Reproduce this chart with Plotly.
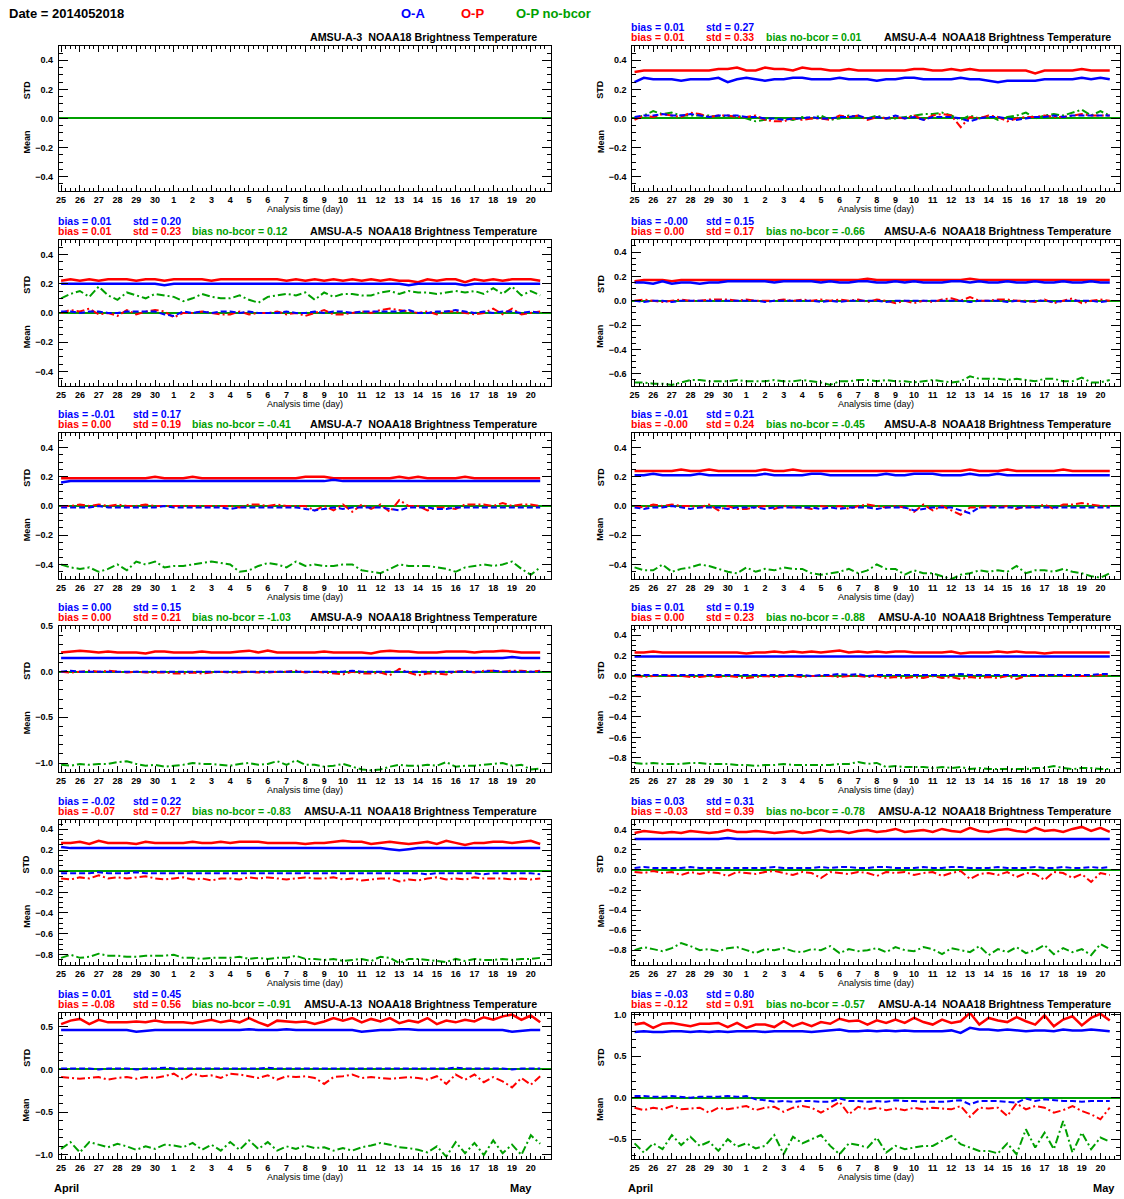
import plotly.graph_objects as go
import pandas as pd

W, H = 1124, 1199
BLUE, RED, GREEN = "#0000ff", "#ff0000", "#00a000"
FONT = "Liberation Sans"

# ---------------- time axis ----------------
analysis_times = pd.date_range("2014-04-25 00:00", periods=52, freq="12h")
t_days = ((analysis_times - analysis_times[0]) / pd.Timedelta(days=1)).tolist()
day_ticks = list(range(26))
day_labels = ["25", "26", "27", "28", "29", "30", "1", "2", "3", "4", "5", "6", "7",
              "8", "9", "10", "11", "12", "13", "14", "15", "16", "17", "18", "19", "20"]

channels = ["AMSU-A-3", "AMSU-A-4", "AMSU-A-5", "AMSU-A-6", "AMSU-A-7", "AMSU-A-8",
            "AMSU-A-9", "AMSU-A-10", "AMSU-A-11", "AMSU-A-12", "AMSU-A-13", "AMSU-A-14"]

oa_bias_txt = ["", "0.01", "0.01", "-0.00", "-0.01", "-0.01", "0.00", "0.01", "-0.02", "0.03", "0.01", "-0.03"]
oa_std_txt = ["", "0.27", "0.20", "0.15", "0.17", "0.21", "0.15", "0.19", "0.22", "0.31", "0.45", "0.80"]
op_bias_txt = ["", "0.01", "0.01", "0.00", "0.00", "-0.00", "0.00", "0.00", "-0.07", "-0.03", "-0.08", "-0.12"]
op_std_txt = ["", "0.33", "0.23", "0.17", "0.19", "0.24", "0.21", "0.23", "0.27", "0.39", "0.56", "0.91"]
nobc_bias_txt = ["", "0.01", "0.12", "-0.66", "-0.41", "-0.45", "-1.03", "-0.88", "-0.83", "-0.78", "-0.91", "-0.57"]

# ---------------- series (12-hourly) ----------------
# AMSU-A-3: no data
oa_std_a3, op_std_a3, oa_mean_a3, op_mean_a3, nobc_mean_a3 = [], [], [], [], []

oa_std_a4 = [0.25,0.28,0.27,0.27,0.27,0.26,0.27,0.27,0.27,0.28,0.25,0.27,0.28,
             0.27,0.26,0.27,0.27,0.28,0.28,0.27,0.27,0.27,0.28,0.27,0.27,0.27,
             0.26,0.27,0.27,0.28,0.28,0.27,0.27,0.27,0.27,0.28,0.27,0.27,0.26,
             0.25,0.26,0.26,0.26,0.26,0.27,0.27,0.27,0.27,0.28,0.27,0.28,0.27]
op_std_a4 = [0.32,0.33,0.33,0.33,0.33,0.33,0.33,0.33,0.33,0.34,0.34,0.35,0.33,
             0.33,0.35,0.34,0.34,0.33,0.35,0.34,0.34,0.33,0.33,0.34,0.33,0.33,
             0.33,0.33,0.33,0.33,0.34,0.34,0.33,0.33,0.34,0.33,0.34,0.33,0.33,
             0.33,0.33,0.33,0.33,0.31,0.33,0.33,0.33,0.33,0.34,0.33,0.33,0.33]
oa_mean_a4 = [0.01,0.02,0.02,0.03,0.02,0.02,0.03,0.02,0.01,0.02,0.02,0.02,0.01,
              0.01,0.00,0.00,-0.01,0.00,0.00,0.01,0.00,0.00,0.01,0.01,0.02,0.00,
              0.01,0.00,0.02,0.00,0.01,-0.01,0.01,0.01,0.01,0.00,-0.02,0.00,0.01,
              0.01,0.00,-0.01,0.00,0.01,0.01,0.02,0.01,0.02,0.02,0.02,0.02,0.02]
op_mean_a4 = [-0.01,0.02,0.01,0.03,0.02,0.01,0.04,0.03,0.01,0.02,0.02,0.01,0.01,
              0.02,-0.01,-0.02,-0.02,0.00,-0.01,0.00,0.00,-0.01,0.02,0.01,0.02,-0.01,
              0.01,0.00,0.01,0.00,0.02,-0.01,0.02,0.03,0.02,-0.06,0.01,0.00,0.02,
              0.01,-0.02,0.00,0.01,0.01,0.02,0.01,0.01,0.02,0.03,0.02,0.02,0.02]
nobc_mean_a4 = [0.00,0.02,0.05,0.03,0.04,0.02,0.02,0.02,0.02,0.01,0.01,0.02,0.00,
                -0.02,-0.01,0.00,0.00,-0.01,0.01,0.00,0.02,-0.01,0.00,0.02,0.01,0.00,
                0.02,0.00,0.00,0.01,0.02,0.03,0.03,0.04,0.02,-0.01,0.02,0.00,0.02,
                -0.01,0.01,0.02,0.04,0.00,0.02,0.03,0.02,0.04,0.06,0.02,0.05,0.02]

oa_std_a5 = [0.20,0.20,0.20,0.20,0.20,0.20,0.20,0.20,0.20,0.20,0.20,0.19,0.20,
             0.20,0.20,0.20,0.20,0.20,0.20,0.20,0.20,0.20,0.20,0.20,0.20,0.20,
             0.20,0.20,0.20,0.20,0.20,0.20,0.20,0.20,0.20,0.20,0.20,0.19,0.20,
             0.20,0.20,0.20,0.20,0.19,0.20,0.20,0.20,0.20,0.20,0.20,0.20,0.20]
op_std_a5 = [0.22,0.23,0.22,0.23,0.22,0.23,0.23,0.23,0.22,0.23,0.23,0.22,0.23,
             0.23,0.23,0.23,0.22,0.23,0.23,0.23,0.23,0.23,0.23,0.23,0.22,0.23,
             0.22,0.23,0.22,0.23,0.22,0.23,0.22,0.23,0.22,0.23,0.22,0.22,0.21,
             0.23,0.22,0.23,0.23,0.21,0.23,0.22,0.23,0.22,0.23,0.23,0.23,0.22]
oa_mean_a5 = [0.01,0.01,0.00,0.01,0.01,0.00,0.00,0.01,0.01,0.01,0.01,-0.01,-0.02,
              0.01,0.00,0.01,0.00,0.01,0.01,0.00,0.01,0.00,0.00,0.00,0.01,0.00,
              0.00,0.01,0.00,0.01,0.01,0.00,0.01,0.01,0.01,0.01,0.01,0.02,0.00,
              0.00,0.01,0.01,0.02,0.01,0.00,0.01,0.00,0.01,0.01,0.00,0.01,0.00]
op_mean_a5 = [0.00,0.02,0.01,0.03,-0.01,0.00,-0.02,0.02,-0.01,0.01,0.02,0.01,-0.03,
              0.00,0.00,0.01,0.00,-0.01,-0.01,0.01,-0.01,0.00,0.00,0.01,-0.01,0.00,
              -0.02,0.00,0.02,-0.01,-0.01,0.00,0.01,0.00,0.02,0.03,0.02,0.01,0.00,
              0.01,-0.01,0.01,0.01,0.00,-0.01,0.00,0.03,-0.01,0.03,-0.01,0.00,0.01]
nobc_mean_a5 = [0.10,0.13,0.15,0.11,0.18,0.12,0.09,0.14,0.12,0.10,0.13,0.12,0.11,
                0.08,0.10,0.13,0.11,0.10,0.10,0.12,0.09,0.07,0.11,0.12,0.13,0.12,
                0.14,0.09,0.14,0.11,0.13,0.13,0.12,0.12,0.14,0.15,0.13,0.15,0.14,
                0.14,0.13,0.14,0.15,0.14,0.15,0.13,0.17,0.13,0.18,0.12,0.15,0.12]

oa_std_a6 = [0.15,0.15,0.14,0.16,0.14,0.15,0.15,0.14,0.15,0.15,0.16,0.16,0.16,
             0.16,0.16,0.15,0.16,0.16,0.16,0.16,0.15,0.16,0.15,0.15,0.16,0.16,
             0.15,0.15,0.16,0.15,0.16,0.15,0.15,0.15,0.16,0.16,0.15,0.16,0.15,
             0.15,0.16,0.15,0.15,0.16,0.15,0.15,0.16,0.15,0.15,0.16,0.15,0.15]
op_std_a6 = [0.16,0.17,0.17,0.17,0.16,0.17,0.17,0.17,0.17,0.17,0.17,0.17,0.17,
             0.17,0.17,0.17,0.17,0.17,0.17,0.17,0.17,0.17,0.17,0.17,0.17,0.18,
             0.17,0.17,0.17,0.17,0.17,0.17,0.17,0.17,0.17,0.17,0.18,0.17,0.17,
             0.17,0.17,0.17,0.17,0.17,0.17,0.17,0.17,0.17,0.17,0.17,0.17,0.17]
oa_mean_a6 = [0.00,-0.01,0.00,0.00,-0.01,0.00,0.00,0.00,0.00,0.00,0.00,0.00,0.00,
              0.00,-0.01,0.00,0.00,0.00,0.00,0.00,-0.01,0.00,-0.01,0.00,0.00,0.00,
              0.00,-0.01,0.00,0.00,0.00,0.00,0.00,0.00,0.00,0.00,-0.01,0.00,0.00,
              0.00,-0.01,0.00,-0.01,0.00,0.00,-0.01,0.00,0.00,0.00,0.00,-0.01,0.00]
op_mean_a6 = [0.00,0.01,0.00,-0.01,0.00,0.01,0.00,0.00,0.01,0.01,0.01,0.00,0.01,
              0.00,0.00,0.00,0.01,0.00,0.01,0.00,0.01,0.00,0.01,0.00,0.01,-0.01,
              0.01,0.00,-0.02,0.00,-0.02,0.00,-0.01,0.01,0.02,0.00,0.03,0.00,0.00,
              0.01,0.01,0.00,0.00,-0.01,0.01,-0.02,0.00,0.02,-0.02,0.00,0.01,0.00]
nobc_mean_a6 = [-0.67,-0.67,-0.68,-0.68,-0.69,-0.67,-0.65,-0.65,-0.66,-0.66,-0.66,-0.65,-0.66,
                -0.66,-0.66,-0.65,-0.66,-0.66,-0.65,-0.66,-0.67,-0.69,-0.66,-0.66,-0.65,-0.65,
                -0.66,-0.65,-0.66,-0.66,-0.67,-0.66,-0.65,-0.66,-0.67,-0.66,-0.62,-0.64,-0.64,
                -0.64,-0.65,-0.64,-0.65,-0.66,-0.64,-0.64,-0.66,-0.66,-0.63,-0.67,-0.67,-0.65]

oa_std_a7 = [0.16,0.17,0.17,0.17,0.17,0.17,0.17,0.17,0.17,0.17,0.17,0.17,0.17,
             0.17,0.17,0.17,0.17,0.17,0.17,0.17,0.17,0.17,0.17,0.17,0.17,0.17,
             0.17,0.17,0.17,0.18,0.17,0.17,0.17,0.17,0.17,0.17,0.17,0.17,0.17,
             0.17,0.17,0.17,0.17,0.17,0.17,0.17,0.17,0.17,0.17,0.17,0.17,0.17]
op_std_a7 = [0.19,0.19,0.19,0.19,0.19,0.19,0.19,0.19,0.19,0.19,0.20,0.19,0.19,
             0.19,0.20,0.19,0.19,0.19,0.19,0.19,0.19,0.19,0.19,0.19,0.19,0.19,
             0.20,0.20,0.20,0.19,0.19,0.19,0.19,0.19,0.19,0.19,0.20,0.19,0.20,
             0.19,0.19,0.19,0.19,0.20,0.19,0.19,0.19,0.19,0.19,0.19,0.19,0.19]
oa_mean_a7 = [-0.01,-0.01,-0.01,-0.01,0.00,-0.01,-0.01,-0.01,-0.01,-0.01,-0.01,0.00,-0.01,
              -0.01,-0.01,-0.01,-0.01,-0.01,-0.02,-0.01,-0.01,-0.01,-0.01,-0.01,-0.01,-0.01,
              -0.02,-0.03,-0.02,-0.01,-0.02,-0.01,-0.01,-0.01,-0.01,-0.02,-0.03,-0.01,-0.01,
              -0.01,-0.02,-0.02,-0.01,-0.01,-0.01,-0.01,-0.01,-0.01,-0.01,-0.01,-0.01,-0.01]
op_mean_a7 = [0.00,0.00,0.01,0.00,0.01,0.00,0.01,0.00,0.00,0.01,0.00,0.00,0.00,
              0.00,0.00,0.00,0.00,0.00,0.00,-0.01,0.01,0.01,0.00,0.01,0.00,0.00,
              0.00,-0.03,0.00,-0.03,0.01,-0.04,0.01,-0.02,0.01,-0.04,0.04,0.00,0.00,
              -0.03,-0.01,-0.01,-0.02,0.01,0.01,0.01,0.00,0.02,0.00,0.01,0.01,0.00]
nobc_mean_a7 = [-0.40,-0.42,-0.43,-0.42,-0.45,-0.43,-0.40,-0.44,-0.38,-0.40,-0.38,-0.42,-0.41,
                -0.41,-0.40,-0.39,-0.38,-0.39,-0.40,-0.45,-0.44,-0.41,-0.39,-0.40,-0.42,-0.38,
                -0.41,-0.40,-0.41,-0.41,-0.40,-0.40,-0.44,-0.45,-0.46,-0.43,-0.40,-0.41,-0.41,
                -0.41,-0.42,-0.43,-0.45,-0.42,-0.41,-0.40,-0.41,-0.40,-0.38,-0.43,-0.47,-0.42]

oa_std_a8 = [0.21,0.21,0.22,0.21,0.21,0.21,0.21,0.22,0.21,0.21,0.21,0.21,0.21,
             0.21,0.22,0.21,0.21,0.21,0.21,0.22,0.22,0.21,0.21,0.21,0.21,0.21,
             0.21,0.22,0.21,0.21,0.22,0.22,0.22,0.21,0.21,0.21,0.22,0.21,0.21,
             0.22,0.21,0.21,0.21,0.21,0.21,0.21,0.21,0.21,0.21,0.21,0.21,0.21]
op_std_a8 = [0.24,0.24,0.24,0.24,0.24,0.25,0.24,0.24,0.25,0.24,0.24,0.24,0.24,
             0.24,0.25,0.24,0.24,0.25,0.24,0.24,0.24,0.24,0.24,0.24,0.24,0.24,
             0.24,0.24,0.24,0.24,0.24,0.24,0.24,0.24,0.24,0.24,0.25,0.24,0.24,
             0.24,0.25,0.24,0.24,0.24,0.24,0.24,0.25,0.24,0.24,0.24,0.24,0.24]
oa_mean_a8 = [-0.01,-0.02,-0.01,-0.01,0.00,-0.01,-0.02,-0.01,-0.01,-0.01,-0.02,-0.01,-0.01,
              -0.01,-0.02,-0.01,-0.01,-0.01,-0.01,-0.01,-0.02,-0.01,-0.02,-0.01,-0.01,-0.01,
              -0.02,-0.01,-0.01,-0.01,-0.03,-0.02,-0.01,-0.01,-0.01,-0.03,-0.05,-0.01,-0.01,
              -0.01,-0.01,-0.01,-0.01,-0.01,-0.01,-0.01,-0.01,-0.01,-0.01,-0.01,-0.01,-0.01]
op_mean_a8 = [0.00,-0.01,0.01,0.00,0.01,0.00,0.00,-0.01,0.01,-0.03,0.00,-0.02,-0.02,
              -0.01,0.00,-0.02,0.00,-0.01,-0.01,-0.02,0.00,-0.01,0.00,-0.02,0.00,0.01,
              0.00,-0.01,0.00,-0.01,-0.04,0.01,-0.03,0.00,-0.03,-0.06,-0.01,-0.01,0.00,
              -0.01,0.00,-0.02,0.00,-0.01,0.01,-0.02,0.01,0.01,0.02,0.01,0.00,0.00]
nobc_mean_a8 = [-0.42,-0.44,-0.44,-0.40,-0.45,-0.43,-0.42,-0.40,-0.41,-0.43,-0.45,-0.46,-0.42,
                -0.45,-0.43,-0.44,-0.42,-0.43,-0.43,-0.46,-0.47,-0.46,-0.45,-0.43,-0.46,-0.44,
                -0.40,-0.43,-0.43,-0.47,-0.44,-0.46,-0.46,-0.48,-0.50,-0.47,-0.46,-0.44,-0.45,
                -0.44,-0.45,-0.41,-0.46,-0.44,-0.44,-0.45,-0.43,-0.45,-0.46,-0.48,-0.49,-0.46]

oa_std_a9 = [0.15,0.15,0.15,0.15,0.15,0.15,0.15,0.15,0.15,0.15,0.15,0.15,0.15,
             0.15,0.15,0.15,0.15,0.15,0.15,0.15,0.15,0.15,0.15,0.15,0.15,0.15,
             0.15,0.15,0.15,0.15,0.15,0.15,0.15,0.15,0.15,0.15,0.15,0.15,0.15,
             0.15,0.15,0.15,0.15,0.15,0.15,0.15,0.15,0.15,0.16,0.15,0.15,0.15]
op_std_a9 = [0.21,0.22,0.23,0.22,0.21,0.22,0.21,0.21,0.21,0.20,0.22,0.22,0.21,
             0.21,0.21,0.22,0.21,0.21,0.21,0.22,0.23,0.21,0.23,0.21,0.21,0.21,
             0.21,0.21,0.22,0.21,0.21,0.21,0.21,0.20,0.22,0.23,0.22,0.22,0.21,
             0.21,0.21,0.22,0.22,0.22,0.21,0.22,0.22,0.23,0.22,0.21,0.21,0.21]
oa_mean_a9 = [0.00,0.01,0.00,0.00,0.00,0.00,0.00,0.00,0.00,0.00,0.00,0.00,0.00,
              0.00,0.00,0.00,0.00,0.00,0.00,0.00,0.00,0.00,0.00,0.00,0.00,0.00,
              0.00,0.00,0.00,0.00,0.00,0.01,0.00,0.00,0.00,0.00,0.00,0.00,0.00,
              0.00,0.00,0.00,0.00,0.00,0.00,0.00,0.01,0.00,0.00,0.00,0.00,0.00]
op_mean_a9 = [0.00,-0.01,0.00,0.01,0.00,0.01,0.00,-0.01,0.00,-0.01,-0.01,-0.01,-0.02,
              -0.02,-0.01,-0.02,-0.01,0.00,-0.01,-0.01,0.00,-0.01,-0.01,0.00,0.00,0.01,
              -0.01,0.00,-0.01,-0.02,-0.03,0.00,-0.02,-0.02,-0.01,-0.04,0.03,-0.01,-0.04,
              -0.02,-0.02,-0.03,0.00,0.01,-0.01,0.01,0.01,0.00,0.01,0.01,0.00,0.01]
nobc_mean_a9 = [-1.02,-1.03,-1.01,-1.02,-1.01,-1.01,-0.99,-0.98,-1.01,-1.03,-1.02,-1.04,-1.03,
                -1.02,-1.00,-1.01,-1.01,-1.02,-1.03,-1.01,-1.00,-1.02,-1.01,-0.98,-1.02,-0.97,
                -1.02,-1.02,-1.04,-1.03,-1.01,-1.04,-1.07,-1.08,-1.07,-1.04,-1.02,-1.03,-1.03,
                -1.02,-1.03,-0.99,-1.04,-1.03,-1.03,-1.02,-1.01,-1.00,-1.03,-1.02,-1.07,-1.06]

oa_std_a10 = [0.19,0.19,0.19,0.19,0.19,0.19,0.19,0.19,0.19,0.19,0.19,0.19,0.19,
              0.19,0.19,0.19,0.19,0.19,0.19,0.19,0.19,0.19,0.19,0.19,0.19,0.19,
              0.19,0.19,0.19,0.19,0.19,0.19,0.19,0.19,0.19,0.19,0.19,0.19,0.19,
              0.19,0.19,0.19,0.19,0.19,0.19,0.19,0.19,0.19,0.19,0.19,0.19,0.19]
op_std_a10 = [0.23,0.23,0.24,0.23,0.23,0.23,0.23,0.23,0.23,0.23,0.23,0.23,0.22,
              0.23,0.23,0.24,0.23,0.24,0.23,0.24,0.23,0.24,0.25,0.23,0.24,0.23,
              0.24,0.23,0.24,0.24,0.23,0.23,0.23,0.23,0.24,0.22,0.23,0.23,0.23,
              0.24,0.23,0.24,0.23,0.23,0.22,0.23,0.23,0.23,0.23,0.23,0.23,0.23]
oa_mean_a10 = [0.01,0.01,0.01,0.01,0.01,0.01,0.01,0.01,0.01,0.01,0.01,0.01,0.01,
               0.01,0.01,0.01,0.01,0.01,0.01,0.00,0.01,0.01,0.02,0.01,0.02,0.00,
               0.01,0.01,0.01,0.01,0.01,0.01,0.01,0.01,0.01,0.02,0.01,0.01,0.01,
               0.01,0.01,0.01,0.01,0.01,0.01,0.01,0.01,0.01,0.01,0.01,0.02,0.02]
op_mean_a10 = [0.00,-0.01,0.00,0.01,0.00,0.00,-0.01,-0.01,0.00,-0.01,0.00,-0.01,-0.02,
               -0.01,0.00,-0.01,0.00,0.00,-0.01,0.00,0.00,0.00,-0.01,0.00,0.00,-0.01,
               0.00,-0.02,-0.01,-0.02,-0.01,-0.02,0.00,-0.02,-0.01,-0.03,-0.01,-0.02,-0.01,
               -0.02,0.00,-0.03,0.00,0.00,0.00,0.01,0.00,0.00,0.00,0.00,0.01,0.00]
nobc_mean_a10 = [-0.85,-0.86,-0.85,-0.86,-0.86,-0.86,-0.85,-0.85,-0.86,-0.86,-0.86,-0.87,-0.87,
                 -0.88,-0.87,-0.87,-0.86,-0.87,-0.87,-0.87,-0.87,-0.87,-0.86,-0.86,-0.84,-0.86,
                 -0.85,-0.89,-0.88,-0.89,-0.89,-0.89,-0.90,-0.89,-0.90,-0.89,-0.91,-0.90,-0.91,
                 -0.91,-0.91,-0.91,-0.91,-0.90,-0.90,-0.88,-0.90,-0.91,-0.90,-0.90,-0.91,-0.91]

oa_std_a11 = [0.23,0.22,0.22,0.22,0.22,0.22,0.22,0.22,0.22,0.22,0.22,0.22,0.22,
              0.22,0.22,0.22,0.22,0.22,0.22,0.22,0.22,0.22,0.22,0.22,0.22,0.22,
              0.22,0.22,0.22,0.22,0.22,0.22,0.22,0.22,0.22,0.21,0.20,0.21,0.22,
              0.22,0.22,0.22,0.22,0.22,0.22,0.22,0.22,0.22,0.22,0.22,0.22,0.22]
op_std_a11 = [0.27,0.27,0.28,0.26,0.29,0.27,0.27,0.27,0.26,0.28,0.27,0.27,0.27,
              0.27,0.28,0.27,0.27,0.28,0.27,0.28,0.28,0.28,0.27,0.27,0.27,0.27,
              0.26,0.27,0.27,0.28,0.29,0.28,0.28,0.26,0.27,0.28,0.27,0.26,0.27,
              0.28,0.26,0.29,0.27,0.25,0.27,0.27,0.28,0.28,0.27,0.28,0.29,0.26]
oa_mean_a11 = [-0.02,-0.02,-0.02,-0.02,-0.01,-0.02,-0.02,-0.02,-0.01,-0.02,-0.02,-0.02,-0.02,
               -0.02,-0.02,-0.02,-0.02,-0.02,-0.02,-0.02,-0.02,-0.02,-0.02,-0.02,-0.02,-0.02,
               -0.02,-0.02,-0.02,-0.02,-0.02,-0.02,-0.02,-0.02,-0.02,-0.02,-0.02,-0.02,-0.02,
               -0.03,-0.02,-0.02,-0.02,-0.02,-0.02,-0.03,-0.02,-0.02,-0.02,-0.02,-0.02,-0.03]
op_mean_a11 = [-0.07,-0.08,-0.06,-0.07,-0.04,-0.07,-0.06,-0.07,-0.06,-0.05,-0.07,-0.08,-0.07,
               -0.06,-0.08,-0.07,-0.09,-0.07,-0.07,-0.08,-0.06,-0.07,-0.06,-0.07,-0.08,-0.07,
               -0.06,-0.07,-0.07,-0.06,-0.08,-0.07,-0.09,-0.08,-0.07,-0.07,-0.10,-0.08,-0.09,
               -0.07,-0.06,-0.08,-0.07,-0.08,-0.06,-0.07,-0.07,-0.07,-0.08,-0.07,-0.08,-0.07]
nobc_mean_a11 = [-0.83,-0.80,-0.83,-0.82,-0.79,-0.81,-0.81,-0.82,-0.82,-0.81,-0.81,-0.81,-0.80,
                 -0.83,-0.83,-0.84,-0.83,-0.83,-0.83,-0.82,-0.84,-0.83,-0.84,-0.83,-0.83,-0.81,
                 -0.84,-0.84,-0.85,-0.84,-0.86,-0.85,-0.84,-0.86,-0.82,-0.83,-0.88,-0.84,-0.84,
                 -0.85,-0.86,-0.87,-0.84,-0.86,-0.84,-0.85,-0.85,-0.84,-0.85,-0.84,-0.84,-0.83]

oa_std_a12 = [0.31,0.31,0.31,0.31,0.31,0.31,0.31,0.31,0.31,0.31,0.32,0.31,0.31,
              0.31,0.31,0.31,0.31,0.31,0.31,0.31,0.31,0.31,0.31,0.31,0.31,0.31,
              0.31,0.31,0.31,0.31,0.31,0.31,0.31,0.31,0.31,0.31,0.31,0.31,0.31,
              0.31,0.31,0.31,0.31,0.31,0.31,0.31,0.31,0.31,0.31,0.31,0.31,0.31]
op_std_a12 = [0.37,0.39,0.38,0.37,0.38,0.37,0.39,0.38,0.37,0.38,0.40,0.38,0.38,
              0.39,0.38,0.37,0.38,0.39,0.37,0.38,0.40,0.38,0.39,0.37,0.39,0.40,
              0.38,0.39,0.41,0.38,0.39,0.40,0.38,0.41,0.39,0.38,0.42,0.39,0.38,
              0.40,0.41,0.39,0.38,0.42,0.39,0.40,0.38,0.41,0.43,0.39,0.42,0.38]
oa_mean_a12 = [0.02,0.03,0.02,0.02,0.02,0.02,0.03,0.02,0.02,0.02,0.02,0.02,0.02,
               0.02,0.02,0.03,0.02,0.02,0.02,0.02,0.03,0.02,0.03,0.03,0.02,0.02,
               0.03,0.03,0.02,0.02,0.02,0.03,0.02,0.02,0.03,0.03,0.02,0.02,0.02,
               0.03,0.02,0.02,0.02,0.03,0.02,0.02,0.03,0.02,0.02,0.03,0.02,0.03]
op_mean_a12 = [-0.02,-0.03,-0.01,-0.03,-0.02,-0.05,-0.02,-0.04,-0.02,-0.03,-0.06,-0.02,-0.03,
               -0.04,-0.02,-0.01,-0.03,-0.05,-0.02,-0.03,-0.08,-0.02,-0.03,-0.04,-0.02,-0.03,
               -0.06,-0.02,-0.03,-0.02,-0.05,-0.03,-0.02,-0.06,-0.03,-0.01,-0.09,-0.04,-0.03,
               -0.05,-0.02,-0.07,-0.03,-0.04,-0.10,-0.02,-0.03,-0.08,-0.04,-0.12,-0.03,-0.05]
nobc_mean_a12 = [-0.80,-0.77,-0.79,-0.81,-0.78,-0.73,-0.76,-0.80,-0.79,-0.81,-0.78,-0.77,-0.80,
                 -0.83,-0.79,-0.80,-0.78,-0.81,-0.82,-0.79,-0.80,-0.76,-0.83,-0.79,-0.81,-0.80,
                 -0.78,-0.82,-0.77,-0.80,-0.81,-0.77,-0.79,-0.84,-0.78,-0.80,-0.82,-0.76,-0.85,
                 -0.79,-0.82,-0.77,-0.83,-0.80,-0.75,-0.84,-0.78,-0.82,-0.79,-0.85,-0.74,-0.79]

oa_std_a13 = [0.46,0.46,0.46,0.46,0.46,0.46,0.46,0.46,0.44,0.45,0.46,0.46,0.46,
              0.46,0.46,0.46,0.46,0.46,0.46,0.46,0.47,0.46,0.46,0.46,0.47,0.46,
              0.46,0.46,0.46,0.46,0.46,0.46,0.44,0.45,0.46,0.46,0.47,0.47,0.46,
              0.46,0.46,0.46,0.46,0.46,0.46,0.46,0.46,0.46,0.44,0.45,0.46,0.46]
op_std_a13 = [0.53,0.57,0.59,0.53,0.58,0.55,0.55,0.55,0.56,0.55,0.57,0.55,0.55,
              0.55,0.54,0.56,0.58,0.55,0.57,0.55,0.60,0.55,0.51,0.57,0.56,0.55,
              0.56,0.53,0.56,0.60,0.57,0.60,0.55,0.59,0.56,0.60,0.54,0.57,0.55,
              0.60,0.53,0.57,0.55,0.58,0.56,0.61,0.58,0.62,0.64,0.58,0.63,0.55]
oa_mean_a13 = [0.01,0.01,0.01,0.01,0.00,0.01,0.01,0.01,0.00,0.01,0.01,0.02,0.01,
               0.01,0.01,0.01,0.01,0.01,0.01,0.01,0.01,0.01,0.02,0.01,0.01,0.01,
               0.01,0.01,0.01,0.01,0.01,0.01,0.01,0.01,0.01,0.01,0.01,0.01,0.01,
               0.01,0.01,0.01,0.02,0.01,0.01,0.01,0.01,0.01,0.00,0.01,0.01,0.01]
op_mean_a13 = [-0.09,-0.10,-0.11,-0.10,-0.09,-0.12,-0.10,-0.09,-0.11,-0.09,-0.10,-0.08,-0.05,
               -0.12,-0.05,-0.08,-0.07,-0.10,-0.05,-0.06,-0.08,-0.10,-0.07,-0.12,-0.08,-0.09,
               -0.08,-0.10,-0.17,-0.09,-0.08,-0.06,-0.10,-0.09,-0.10,-0.11,-0.10,-0.09,-0.10,
               -0.12,-0.08,-0.17,-0.06,-0.12,-0.06,-0.15,-0.09,-0.14,-0.21,-0.10,-0.18,-0.08]
nobc_mean_a13 = [-0.93,-0.85,-0.97,-0.85,-0.88,-0.91,-0.87,-0.90,-0.94,-0.90,-0.93,-0.88,-0.89,
                 -0.91,-0.86,-0.94,-0.88,-0.95,-0.85,-0.94,-0.83,-0.93,-0.85,-0.95,-0.90,-0.93,
                 -0.89,-0.92,-0.91,-0.95,-0.92,-0.95,-0.91,-0.89,-0.86,-0.88,-0.91,-0.92,-0.94,
                 -0.97,-0.90,-1.02,-0.85,-0.98,-0.86,-1.00,-0.83,-0.98,-0.88,-1.00,-0.77,-0.87]

oa_std_a14 = [0.79,0.80,0.79,0.79,0.80,0.80,0.79,0.80,0.79,0.80,0.79,0.80,0.80,
              0.80,0.79,0.80,0.80,0.80,0.80,0.79,0.80,0.81,0.82,0.80,0.80,0.81,
              0.80,0.81,0.80,0.81,0.80,0.80,0.80,0.80,0.81,0.78,0.84,0.82,0.82,
              0.81,0.82,0.81,0.80,0.81,0.81,0.80,0.82,0.81,0.81,0.82,0.81,0.80]
op_std_a14 = [0.88,0.90,0.84,0.89,0.90,0.88,0.86,0.89,0.89,0.90,0.85,0.90,0.84,
              0.88,0.88,0.85,0.92,0.86,0.90,0.86,0.91,0.89,0.95,0.92,0.93,0.88,
              0.93,0.90,0.94,0.90,0.96,0.91,0.88,0.94,0.90,0.92,1.02,0.88,0.96,
              0.93,0.91,0.97,0.92,0.88,0.99,0.86,0.94,0.98,0.87,0.96,1.01,0.93]
oa_mean_a14 = [0.02,0.02,0.01,0.01,0.02,0.01,0.00,0.01,0.01,0.01,0.02,0.01,0.02,
               -0.02,-0.03,-0.05,-0.04,-0.05,-0.04,-0.04,-0.05,-0.05,-0.01,-0.04,-0.04,-0.05,
               -0.04,-0.05,-0.03,-0.04,-0.04,-0.05,-0.05,-0.05,-0.04,-0.03,-0.08,-0.04,-0.04,
               -0.04,-0.05,-0.06,-0.01,-0.04,-0.02,-0.03,-0.04,-0.04,-0.05,-0.04,-0.04,-0.04]
op_mean_a14 = [-0.12,-0.15,-0.12,-0.14,-0.10,-0.14,-0.13,-0.12,-0.18,-0.12,-0.14,-0.12,-0.10,
               -0.15,-0.12,-0.11,-0.17,-0.12,-0.10,-0.12,-0.18,-0.12,-0.05,-0.20,-0.11,-0.14,
               -0.12,-0.15,-0.13,-0.15,-0.12,-0.14,-0.12,-0.13,-0.14,-0.10,-0.23,-0.12,-0.13,
               -0.12,-0.22,-0.07,-0.14,-0.10,-0.12,-0.18,-0.15,-0.10,-0.16,-0.20,-0.26,-0.12]
nobc_mean_a14 = [-0.55,-0.66,-0.55,-0.62,-0.45,-0.57,-0.47,-0.58,-0.53,-0.64,-0.50,-0.59,-0.55,
                 -0.61,-0.58,-0.45,-0.68,-0.47,-0.55,-0.50,-0.45,-0.58,-0.68,-0.55,-0.57,-0.60,
                 -0.48,-0.66,-0.58,-0.62,-0.60,-0.58,-0.58,-0.52,-0.46,-0.56,-0.60,-0.64,-0.64,
                 -0.67,-0.55,-0.68,-0.38,-0.60,-0.42,-0.62,-0.28,-0.66,-0.42,-0.62,-0.48,-0.53]

# ---------------- axis ranges ----------------
y_min = [-0.5, -0.5, -0.5, -0.7, -0.5, -0.5, -1.1, -0.94, -0.9, -0.95, -1.05, -0.74]
y_max = [0.5, 0.5, 0.5, 0.5, 0.5, 0.5, 0.501, 0.49, 0.49, 0.5, 0.66, 1.02]
y_major = [0.2, 0.2, 0.2, 0.2, 0.2, 0.2, 0.5, 0.2, 0.2, 0.2, 0.5, 0.5]

panels = [
    (oa_std_a3, op_std_a3, oa_mean_a3, op_mean_a3, nobc_mean_a3),
    (oa_std_a4, op_std_a4, oa_mean_a4, op_mean_a4, nobc_mean_a4),
    (oa_std_a5, op_std_a5, oa_mean_a5, op_mean_a5, nobc_mean_a5),
    (oa_std_a6, op_std_a6, oa_mean_a6, op_mean_a6, nobc_mean_a6),
    (oa_std_a7, op_std_a7, oa_mean_a7, op_mean_a7, nobc_mean_a7),
    (oa_std_a8, op_std_a8, oa_mean_a8, op_mean_a8, nobc_mean_a8),
    (oa_std_a9, op_std_a9, oa_mean_a9, op_mean_a9, nobc_mean_a9),
    (oa_std_a10, op_std_a10, oa_mean_a10, op_mean_a10, nobc_mean_a10),
    (oa_std_a11, op_std_a11, oa_mean_a11, op_mean_a11, nobc_mean_a11),
    (oa_std_a12, op_std_a12, oa_mean_a12, op_mean_a12, nobc_mean_a12),
    (oa_std_a13, op_std_a13, oa_mean_a13, op_mean_a13, nobc_mean_a13),
    (oa_std_a14, op_std_a14, oa_mean_a14, op_mean_a14, nobc_mean_a14),
]

# ---------------- layout geometry (pixels) ----------------
col_left = [56, 631]
col_right = [549, 1120]
title_inset = [13, 8]
row_top = [41, 236, 430, 624, 819, 1013]
row_bottom = [187, 383, 577, 771, 965, 1160]

def px(x):
    return x / W

def py(y):
    return 1 - y / H

fig = go.Figure()
layout = {}
annotations = []

def ann(text, x, y, size, color="black", xanchor="left", bold=True, angle=0, yanchor="middle"):
    annotations.append(dict(
        text=("<b>%s</b>" % text) if bold else text, x=px(x), y=py(y),
        xref="paper", yref="paper", xanchor=xanchor, yanchor=yanchor,
        showarrow=False, textangle=angle, borderpad=0,
        font=dict(family=FONT, size=size, color=color)))

tickfont = dict(family=FONT, size=9, color="black", weight="bold")

for k, series in enumerate(panels):
    n = k + 1
    r, c = k // 2, k % 2
    L, R, T, B = col_left[c], col_right[c], row_top[r], row_bottom[r]
    xa = "x" if n == 1 else "x%d" % n
    ya = "y" if n == 1 else "y%d" % n
    oa_std, op_std, oa_mean, op_mean, nobc_mean = series
    styles = [
        (nobc_mean, GREEN, "8px,3px,2px,3px", 2),
        (op_mean, RED, "8px,3px,2px,3px", 2),
        (oa_mean, BLUE, "6px,3px", 2),
        (op_std, RED, "solid", 2.5),
        (oa_std, BLUE, "solid", 2.5),
    ]
    for vals, color, dash, wdt in styles:
        fig.add_trace(go.Scatter(
            x=t_days[:len(vals)], y=vals, mode="lines",
            line=dict(color=color, width=wdt, dash=dash),
            xaxis=xa, yaxis=ya, showlegend=False, hoverinfo="skip"))

    minor_y = y_major[k] / (4 if y_major[k] == 0.2 else 5)
    layout["xaxis" if n == 1 else "xaxis%d" % n] = dict(
        domain=[px(L), px(R)], anchor=ya, range=[-0.12, 26.05],
        tickmode="array", tickvals=day_ticks, ticktext=day_labels,
        ticks="inside", ticklen=6, tickwidth=1, tickcolor="black",
        showline=True, linecolor="black", linewidth=1, mirror="ticks",
        showgrid=False, zeroline=False, tickfont=tickfont, ticklabelstandoff=0,
        minor=dict(ticks="inside", tickmode="linear", tick0=0, dtick=0.25,
                   ticklen=3, tickwidth=1, tickcolor="black", showgrid=False),
    )
    layout["yaxis" if n == 1 else "yaxis%d" % n] = dict(
        domain=[py(B), py(T)], anchor=xa, range=[y_min[k], y_max[k]],
        tickmode="linear", tick0=0, dtick=y_major[k], tickformat=".1f",
        ticks="inside", ticklen=9, tickwidth=1, tickcolor="black",
        showline=True, linecolor="black", linewidth=1, mirror="ticks",
        showgrid=False, zeroline=True, zerolinecolor=GREEN, zerolinewidth=2,
        tickfont=tickfont, ticklabelstandoff=3,
        minor=dict(ticks="inside", tickmode="linear", tick0=0, dtick=minor_y,
                   ticklen=4, tickwidth=1, tickcolor="black", showgrid=False),
    )

    # texts
    ann("%s  NOAA18 Brightness Temperature" % channels[k], R - title_inset[c], T - 9, 10.7,
        xanchor="right")
    if oa_bias_txt[k]:
        ann("bias = %s" % oa_bias_txt[k], L - 2, T - 19, 10.5, BLUE)
        ann("std = %s" % oa_std_txt[k], L + 73, T - 19, 10.5, BLUE)
        ann("bias = %s" % op_bias_txt[k], L - 2, T - 9, 10.5, RED)
        ann("std = %s" % op_std_txt[k], L + 73, T - 9, 10.5, RED)
        ann("bias no-bcor = %s" % nobc_bias_txt[k], L + 133, T - 9, 10.5, GREEN)
    ann("Analysis time (day)", (L + R) / 2, B + 18, 9, xanchor="center", bold=False)
    h = B - T
    ann("STD", L - 32, T + 0.30 * h, 9, xanchor="center", angle=-90)
    ann("Mean", L - 32, T + 0.66 * h, 9, xanchor="center", angle=-90)

# header
ann("Date = 2014052018", 5, 9, 13)
ann("O-A", 398, 9, 13, BLUE)
ann("O-P", 458, 9, 13, RED)
ann("O-P no-bcor", 513, 9, 13, GREEN)
# month labels
ann("April", 50, 1189, 11)
ann("May", 531, 1189, 11, xanchor="right")
ann("April", 626, 1189, 11)
ann("May", 1116, 1189, 11, xanchor="right")

fig.update_layout(
    width=W, height=H, margin=dict(l=0, r=0, t=0, b=0),
    paper_bgcolor="white", plot_bgcolor="white",
    showlegend=False, annotations=annotations, **layout)

fig.write_html(
    "out.html",
    config={"displayModeBar": False},
    post_script="document.body.style.margin='0';document.body.style.padding='0';"
                "document.documentElement.style.overflow='hidden';",
)
